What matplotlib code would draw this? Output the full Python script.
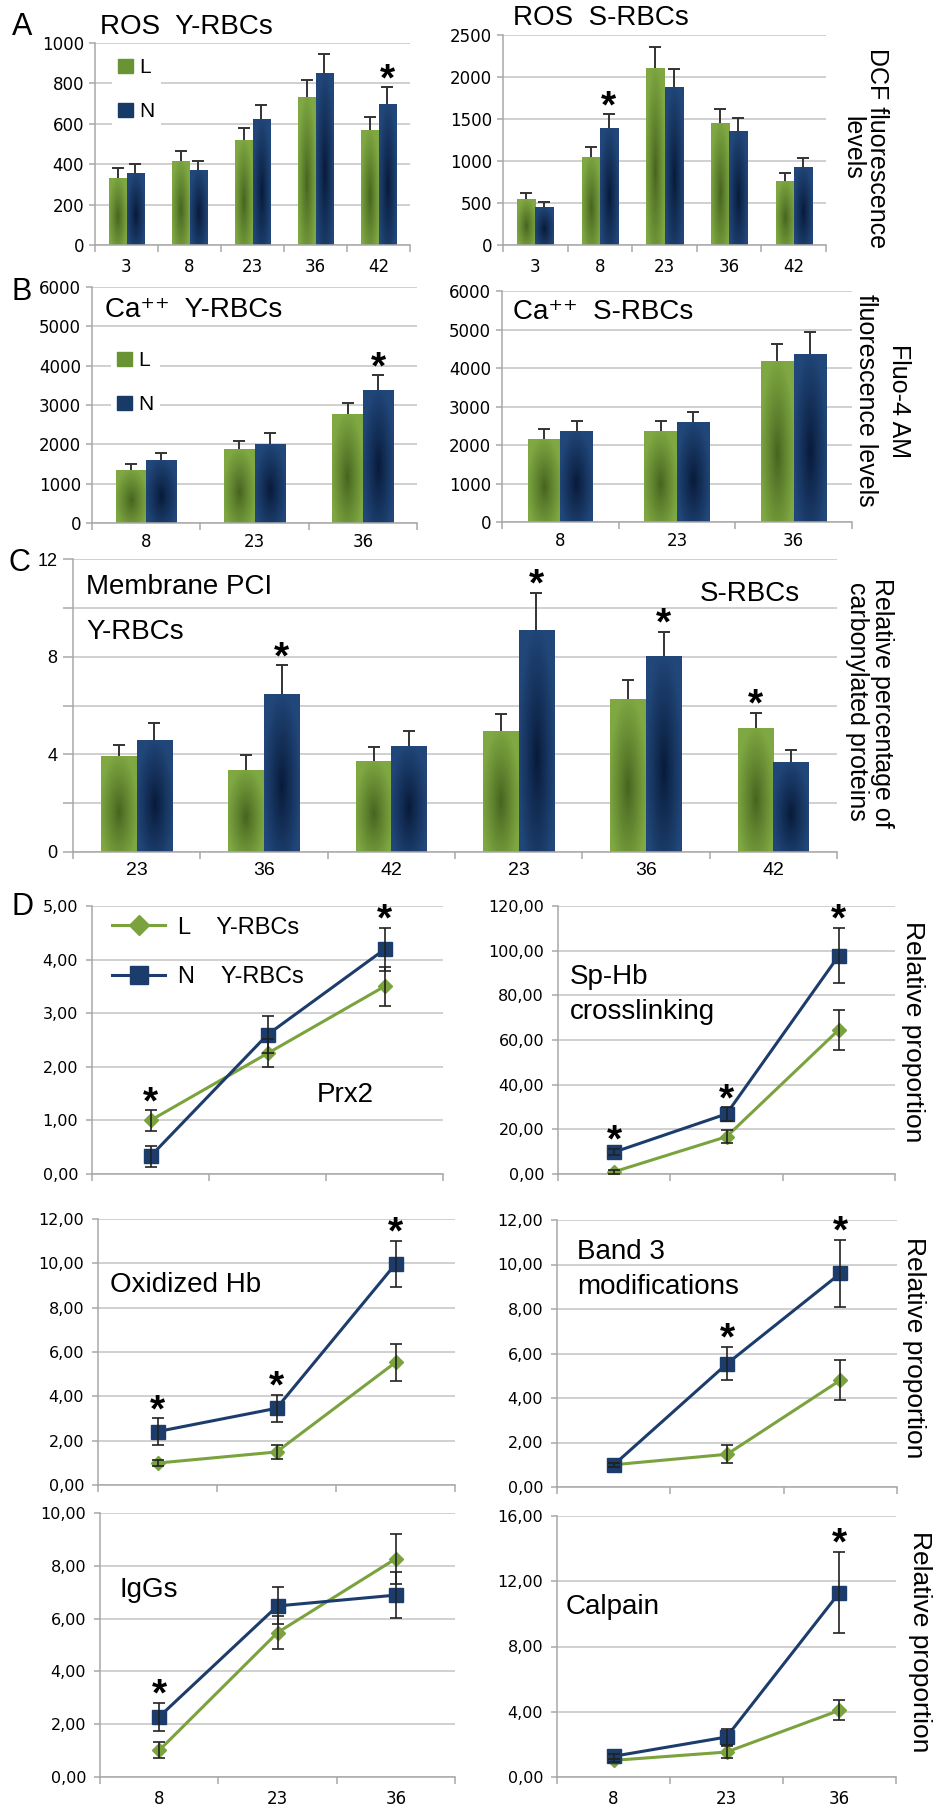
import numpy as np
import matplotlib
matplotlib.use('Agg')
import matplotlib.pyplot as plt
from matplotlib.patches import Patch
from matplotlib.lines import Line2D
from matplotlib.ticker import MultipleLocator, FuncFormatter

plt.rcParams['font.family'] = ['Liberation Sans', 'DejaVu Sans']

# ---------------- data ----------------
# A: ROS (DCF fluorescence)
ros_days = ['3', '8', '23', '36', '42']
rosY_L = [334, 418, 519, 734, 569]
rosY_Le = [45, 48, 61, 83, 66]
rosY_N = [354, 372, 623, 853, 699]
rosY_Ne = [49, 44, 68, 92, 81]
rosY_star = [0, 0, 0, 0, 1]

rosS_L = [547, 1053, 2111, 1453, 764]
rosS_Le = [71, 119, 245, 167, 99]
rosS_N = [451, 1394, 1881, 1358, 931]
rosS_Ne = [60, 162, 210, 151, 107]
rosS_star = [0, 1, 0, 0, 0]

# B: Ca++ (Fluo-4 AM)
ca_days = ['8', '23', '36']
caY_L = [1356, 1873, 2763]
caY_Le = [152, 212, 296]
caY_N = [1602, 2008, 3390]
caY_Ne = [178, 289, 364]
caY_star = [0, 0, 1]

caS_L = [2163, 2362, 4178]
caS_Le = [251, 259, 441]
caS_N = [2362, 2587, 4369]
caS_Ne = [259, 277, 562]
caS_star = [0, 0, 0]

# C: membrane PCI (Y-RBCs 23/36/42, S-RBCs 23/36/42)
pci_days = ['23', '36', '42', '23', '36', '42']
pci_L = [3.92, 3.37, 3.72, 4.94, 6.25, 5.06]
pci_Le = [0.46, 0.62, 0.59, 0.73, 0.81, 0.65]
pci_N = [4.58, 6.48, 4.33, 9.08, 8.04, 3.70]
pci_Ne = [0.69, 1.16, 0.62, 1.52, 0.97, 0.46]
pci_star = [0, 1, 0, 1, 1, 1]

# D: relative proportions
d_days = ['8', '23', '36']
prx_L = [1.00, 2.25, 3.50]
prx_Le = [0.19, 0.26, 0.36]
prx_N = [0.33, 2.60, 4.19]
prx_Ne = [0.20, 0.34, 0.40]
prx_star = [1, 0, 1]

sphb_L = [1.0, 16.7, 64.6]
sphb_Le = [0.8, 3.0, 9.0]
sphb_N = [9.8, 26.9, 97.8]
sphb_Ne = [1.5, 3.0, 12.5]
sphb_star = [1, 1, 1]

oxhb_L = [0.99, 1.49, 5.53]
oxhb_Le = [0.15, 0.30, 0.82]
oxhb_N = [2.41, 3.46, 9.97]
oxhb_Ne = [0.60, 0.60, 1.06]
oxhb_star = [1, 1, 1]

band3_L = [1.0, 1.47, 4.80]
band3_Le = [0.10, 0.40, 0.90]
band3_N = [0.99, 5.54, 9.60]
band3_Ne = [0.10, 0.75, 1.52]
band3_star = [0, 1, 1]

igg_L = [1.01, 5.47, 8.27]
igg_Le = [0.30, 0.64, 0.95]
igg_N = [2.28, 6.48, 6.89]
igg_Ne = [0.52, 0.70, 0.87]
igg_star = [1, 0, 0]

calp_L = [1.02, 1.53, 4.09]
calp_Le = [0.10, 0.35, 0.60]
calp_N = [1.27, 2.45, 11.31]
calp_Ne = [0.15, 0.50, 2.50]
calp_star = [0, 0, 1]

# ---------------- style ----------------
W, H = 933, 1811
GREEN = '#7aa23d'
BLUE = '#1c3d6c'
G_EDGE, G_MID = (0.50, 0.66, 0.26), (0.27, 0.39, 0.12)
B_EDGE, B_MID = (0.13, 0.28, 0.48), (0.03, 0.10, 0.22)
GRID = '#c4c4c4'
AXC = '#a8a8a8'
TICKFONT = 'DejaVu Sans'

fig = plt.figure(figsize=(W / 100, H / 100), dpi=100)


def box(l, t, r, b):
    return fig.add_axes([l / W, 1 - b / H, (r - l) / W, (b - t) / H])


def txt(x, y, s, size=20, **kw):
    kw.setdefault('ha', 'left')
    kw.setdefault('va', 'center')
    fig.text(x / W, 1 - y / H, s, fontsize=size, **kw)


def frame(ax, ymax, step, ncat, labels=None, xright=None, font=TICKFONT,
          fs=12, xpad=9, ylen=4, ypad=4, comma=False, yfs=12):
    ax.set_ylim(0, ymax)
    ax.set_xlim(-0.5, ncat - 0.5 if xright is None else xright)
    ax.yaxis.set_major_locator(MultipleLocator(step))
    ax.grid(axis='y', which='both', color=GRID, lw=1.1)
    ax.set_axisbelow(True)
    for s in ['top', 'right']:
        ax.spines[s].set_visible(False)
    for s in ['left', 'bottom']:
        ax.spines[s].set_color(AXC)
        ax.spines[s].set_linewidth(1.1)
    ax.set_xticks(range(ncat))
    ax.set_xticks(np.arange(ncat + 1) - 0.5, minor=True)
    ax.tick_params(axis='x', which='major', length=0, pad=xpad)
    ax.tick_params(axis='x', which='minor', length=5, color=AXC, width=1.1)
    ax.tick_params(axis='y', which='both', length=ylen, color=AXC, width=1.1, pad=ypad)
    if labels is None:
        ax.set_xticklabels([])
    else:
        ax.set_xticklabels(labels, fontsize=fs, family=font)
    for t in ax.get_yticklabels():
        t.set_family(font)
        t.set_fontsize(yfs)
    if comma:
        ax.yaxis.set_major_formatter(FuncFormatter(lambda v, p: f'{v:.2f}'.replace('.', ',')))


def shade(ax, bs, edge, mid):
    yy, xx = np.mgrid[0:1:80j, 0:1:40j]
    d = np.sqrt(((xx - 0.5) / 0.55) ** 2 + ((yy - 0.42) / 0.62) ** 2)
    d = np.clip(d, 0, 1)[..., None] ** 0.9
    img = np.array(mid) + (np.array(edge) - np.array(mid)) * d
    for b in bs:
        x0, y0, w, h = b.get_x(), b.get_y(), b.get_width(), b.get_height()
        im = ax.imshow(img, extent=(x0, x0 + w, y0, y0 + h), origin='lower',
                       aspect='auto', zorder=2.1, interpolation='bilinear')
        im.set_clip_path(b)


def star(ax, x, top):
    ax.annotate('*', (x, top), xytext=(0, -2), textcoords='offset points',
                ha='center', va='baseline', fontsize=28, fontweight='bold',
                family='Liberation Sans', zorder=6, annotation_clip=False)


def bars(ax, L, Le, N, Ne, stars, w=0.28):
    x = np.arange(len(L))
    bl = ax.bar(x - w / 2, L, w, color=GREEN, zorder=2)
    bn = ax.bar(x + w / 2, N, w, color=BLUE, zorder=2)
    shade(ax, bl, G_EDGE, G_MID)
    shade(ax, bn, B_EDGE, B_MID)
    for xs, v, e in [(x - w / 2, L, Le), (x + w / 2, N, Ne)]:
        _, caps, _ = ax.errorbar(xs, v, yerr=[np.zeros(len(v)), e], fmt='none',
                                 ecolor='#333333', elinewidth=1.4, capsize=4,
                                 capthick=1.4, zorder=4)
        caps[0].set_visible(False)
    for i, s in enumerate(stars):
        if s:
            tl, tn = L[i] + Le[i], N[i] + Ne[i]
            star(ax, x[i] - w / 2 if tl > tn else x[i] + w / 2, max(tl, tn))


def lines(ax, L, Le, N, Ne, stars):
    x = np.arange(len(L))
    ax.plot(x, L, color=GREEN, lw=2.2, marker='D', ms=7.5, zorder=3)
    ax.plot(x, N, color=BLUE, lw=2.2, marker='s', ms=10, zorder=3)
    for v, e in [(L, Le), (N, Ne)]:
        ax.errorbar(x, v, yerr=e, fmt='none', ecolor='#222222', elinewidth=1.2,
                    capsize=4, capthick=1.2, zorder=4)
    for i, s in enumerate(stars):
        if s:
            star(ax, x[i], max(L[i] + Le[i], N[i] + Ne[i]))


def sq_legend(ax, ax_x, ax_y):
    h = [Patch(color='#6a9334', label='L'), Patch(color='#173a66', label='N')]
    ax.legend(handles=h, loc='upper left', bbox_to_anchor=(ax_x, ax_y),
              borderaxespad=0, fontsize=15, handlelength=0.72, handleheight=0.72,
              handletextpad=0.3, labelspacing=1.2, borderpad=0.3, frameon=True,
              facecolor='white', edgecolor='none', framealpha=1, fancybox=False)


# ---------------- A ----------------
ax = box(95, 43, 410, 245)
bars(ax, rosY_L, rosY_Le, rosY_N, rosY_Ne, rosY_star)
frame(ax, 1000, 200, 5, ros_days, xpad=9)
sq_legend(ax, 0.054, 0.955)

ax = box(503, 35, 826, 245)
bars(ax, rosS_L, rosS_Le, rosS_N, rosS_Ne, rosS_star)
frame(ax, 2500, 500, 5, ros_days, xpad=9)

# ---------------- B ----------------
ax = box(92, 287, 417, 523)
bars(ax, caY_L, caY_Le, caY_N, caY_Ne, caY_star)
frame(ax, 6000, 1000, 3, ca_days, xpad=7)
sq_legend(ax, 0.058, 0.754)

ax = box(502, 291, 852, 522)
bars(ax, caS_L, caS_Le, caS_N, caS_Ne, caS_star)
frame(ax, 6000, 1000, 3, ca_days, xpad=7)

# ---------------- C ----------------
ax = box(73, 559, 837, 852)
bars(ax, pci_L, pci_Le, pci_N, pci_Ne, pci_star)
frame(ax, 12, 4, 6, pci_days, font='Liberation Sans', fs=14, xpad=7,
      ylen=7, ypad=4, yfs=13)
ax.yaxis.set_minor_locator(MultipleLocator(2))

# ---------------- D ----------------
fmt = dict(comma=True, font=TICKFONT, yfs=11.5, ylen=4, ypad=6)

ax = box(92, 906, 443, 1174)
lines(ax, prx_L, prx_Le, prx_N, prx_Ne, prx_star)
frame(ax, 5, 1, 3, xright=2.26, **fmt)
h = [Line2D([], [], color=GREEN, lw=2.2, marker='D', ms=7.5, label='L    Y-RBCs'),
     Line2D([], [], color=BLUE, lw=2.2, marker='s', ms=10, label='N    Y-RBCs')]
ax.legend(handles=h, loc='upper left', bbox_to_anchor=(0.057, 0.96), borderaxespad=0,
          fontsize=17, handlelength=2.25, handletextpad=0.55, labelspacing=1.15,
          borderpad=0, frameon=False, numpoints=1, markerscale=1.3)

ax = box(558, 906, 895, 1174)
lines(ax, sphb_L, sphb_Le, sphb_N, sphb_Ne, sphb_star)
frame(ax, 120, 20, 3, **fmt)

ax = box(98, 1219, 455, 1485)
lines(ax, oxhb_L, oxhb_Le, oxhb_N, oxhb_Ne, oxhb_star)
frame(ax, 12, 2, 3, xright=2.21, **fmt)

ax = box(557, 1220, 897, 1487)
lines(ax, band3_L, band3_Le, band3_N, band3_Ne, band3_star)
frame(ax, 12, 2, 3, xright=2.22, **fmt)

ax = box(100, 1513, 455, 1777)
lines(ax, igg_L, igg_Le, igg_N, igg_Ne, igg_star)
frame(ax, 10, 2, 3, d_days, xright=2.2, fs=12, xpad=9, **fmt)

ax = box(557, 1516, 896, 1777)
lines(ax, calp_L, calp_Le, calp_N, calp_Ne, calp_star)
frame(ax, 16, 4, 3, d_days, xright=2.21, fs=12, xpad=9, **fmt)

# ---------------- texts ----------------
txt(12, 27, 'A', 22)
txt(100, 27, 'ROS  Y-RBCs', 20)
txt(513, 18, 'ROS  S-RBCs', 20)
txt(12, 292, 'B', 22)
txt(105, 310, 'Ca\u207a\u207a  Y-RBCs', 20)
txt(513, 312, 'Ca\u207a\u207a  S-RBCs', 20)
txt(8, 563, 'C', 22)
txt(86, 587, 'Membrane PCI', 20)
txt(86, 632, 'Y-RBCs', 20)
txt(700, 594, 'S-RBCs', 20)
txt(12, 907, 'D', 22)
txt(317, 1095, 'Prx2', 20)
txt(570, 977, 'Sp-Hb', 20)
txt(570, 1012, 'crosslinking', 20)
txt(110, 1285, 'Oxidized Hb', 20)
txt(577, 1252, 'Band 3', 20)
txt(577, 1287, 'modifications', 20)
txt(120, 1590, 'IgGs', 20)
txt(566, 1607, 'Calpain', 20)

rot = dict(rotation=270, ha='center', va='center')
txt(877, 148, 'DCF fluorescence', 18, **rot)
txt(852, 148, 'levels', 18, **rot)
txt(899, 401, 'Fluo-4 AM', 18, **rot)
txt(866, 400, 'fluorescence levels', 18, **rot)
txt(882, 703, 'Relative percentage of', 18, **rot)
txt(857, 701, 'carbonylated proteins', 18, **rot)
txt(913, 1032, 'Relative proportion', 19, **rot)
txt(914, 1348, 'Relative proportion', 19, **rot)
txt(920, 1642, 'Relative proportion', 19, **rot)

fig.savefig('out.png', dpi=100)
